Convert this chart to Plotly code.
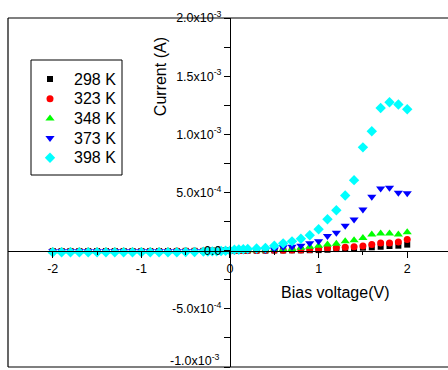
import plotly.graph_objects as go

# Bias voltage (V)
voltage = [-2.0, -1.9, -1.8, -1.7, -1.6, -1.5, -1.4, -1.3, -1.2, -1.1, -1.0,
           -0.9, -0.8, -0.7, -0.6, -0.5, -0.4,
           -0.3, -0.25, -0.2, -0.15, -0.1, -0.05, 0.0, 0.05, 0.1, 0.15, 0.2,
           0.3, 0.4, 0.5, 0.6, 0.7, 0.8, 0.9, 1.0, 1.1, 1.2, 1.3, 1.4, 1.5,
           1.6, 1.7, 1.8, 1.9, 2.0]

# Currents (A)
i_298 = [-3e-6, -3e-6, -3e-6, -3e-6, -3e-6, -3e-6, -3e-6, -3e-6, -3e-6, -3e-6, -3e-6,
         -3e-6, -3e-6, -3e-6, -3e-6, -2e-6, -2e-6,
         -2e-6, -1e-6, -1e-6, -1e-6, 0.0, 0.0, 0.0, 0.0, 0.0, 1e-6, 1e-6,
         1e-6, 1e-6, 2e-6, 2e-6, 3e-6, 3e-6, 4e-6, 5e-6, 8e-6, 1.4e-5, 1.6e-5, 2.0e-5, 2.6e-5,
         2.9e-5, 3.4e-5, 4.0e-5, 4.3e-5, 5.2e-5]
i_323 = [-4e-6, -4e-6, -4e-6, -4e-6, -4e-6, -4e-6, -4e-6, -4e-6, -4e-6, -4e-6, -4e-6,
         -4e-6, -4e-6, -4e-6, -3e-6, -3e-6, -3e-6,
         -2e-6, -2e-6, -1e-6, -1e-6, 0.0, 0.0, 0.0, 0.0, 1e-6, 1e-6, 2e-6,
         2e-6, 3e-6, 3e-6, 4e-6, 5e-6, 6e-6, 9e-6, 1.4e-5, 2.3e-5, 2.6e-5, 2.9e-5, 3.4e-5, 4.0e-5,
         5.2e-5, 6.6e-5, 6.6e-5, 7.5e-5, 9.5e-5]
i_348 = [-4e-6, -4e-6, -4e-6, -4e-6, -4e-6, -4e-6, -4e-6, -4e-6, -4e-6, -4e-6, -4e-6,
         -4e-6, -4e-6, -4e-6, -4e-6, -3e-6, -3e-6,
         -3e-6, -2e-6, -2e-6, -1e-6, -1e-6, 0.0, 0.0, 1e-6, 1e-6, 2e-6, 3e-6,
         4e-6, 4e-6, 6e-6, 1.0e-5, 1.5e-5, 2.5e-5, 3.4e-5, 4.3e-5, 5.2e-5, 6.0e-5, 8.0e-5, 8.9e-5, 1.09e-4,
         1.38e-4, 1.47e-4, 1.47e-4, 1.38e-4, 1.58e-4]
i_373 = [-6e-6, -6e-6, -6e-6, -6e-6, -6e-6, -6e-6, -6e-6, -6e-6, -6e-6, -6e-6, -6e-6,
         -6e-6, -6e-6, -6e-6, -5e-6, -5e-6, -5e-6,
         -4e-6, -4e-6, -3e-6, -2e-6, -1e-6, 0.0, 0.0, 1e-6, 2e-6, 3e-6, 4e-6,
         5e-6, 6e-6, 1.0e-5, 2.9e-5, 3.4e-5, 4.3e-5, 6.3e-5, 8.0e-5, 1.26e-4, 1.55e-4, 2.15e-4, 2.67e-4, 3.53e-4,
         4.63e-4, 5.34e-4, 5.40e-4, 4.97e-4, 4.94e-4]
i_398 = [-1.4e-5, -1.4e-5, -1.4e-5, -1.4e-5, -1.4e-5, -1.4e-5, -1.4e-5, -1.4e-5, -1.4e-5, -1.4e-5, -1.4e-5,
         -1.4e-5, -1.4e-5, -1.3e-5, -1.3e-5, -1.2e-5, -1.1e-5,
         -8e-6, -7e-6, -6e-6, -5e-6, -3e-6, -1e-6, 0.0, 8e-6, 1.0e-5, 1.2e-5, 1.5e-5,
         1.8e-5, 2.3e-5, 4.3e-5, 6.3e-5, 8.0e-5, 1.03e-4, 1.32e-4, 1.84e-4, 2.70e-4, 3.47e-4, 4.74e-4, 6.06e-4, 8.88e-4,
         1.026e-3, 1.227e-3, 1.276e-3, 1.256e-3, 1.216e-3]

series_names = ["298 K", "323 K", "348 K", "373 K", "398 K"]
series_values = [i_298, i_323, i_348, i_373, i_398]
series_colors = ["#000000", "#FF0000", "#00FF00", "#0000FF", "#00FFFF"]
series_symbols = ["square", "circle", "triangle-up", "triangle-down", "diamond"]
series_sizes = [6, 7, 8, 8, 8]

x_tickvals = [-2, -1, 0, 1, 2]
x_ticktext = ["-2", "-1", "0", "1", "2"]
y_tickvals = [2.0e-3, 1.5e-3, 1.0e-3, 5.0e-4, 0.0, -5.0e-4]
y_ticktext = ["2.0x10<sup>-3</sup>", "1.5x10<sup>-3</sup>", "1.0x10<sup>-3</sup>",
              "5.0x10<sup>-4</sup>", "0.0", "-5.0x10<sup>-4</sup>"]
y_bottom_val = -1.0e-3
y_bottom_text = "-1.0x10<sup>-3</sup>"

x_range = [-2.505, 2.46]
y_range = [-1.0e-3, 2.0e-3]

FONT = "Arial, 'Liberation Sans', sans-serif"

fig = go.Figure()
for name, vals, col, sym, sz in zip(series_names, series_values, series_colors,
                                     series_symbols, series_sizes):
    fig.add_trace(go.Scatter(
        x=voltage, y=vals, mode="markers", name=name, showlegend=False,
        marker=dict(color=col, symbol=sym, size=sz, line=dict(width=0)),
    ))

# Legend drawn in a pixel-like overlay coordinate system (x: 8..448, y: 18..367 downwards)
leg_left, leg_right, leg_top, leg_bottom = 31, 122, 60, 175
leg_row0, leg_row_step = 79, 19.7
leg_sym_x, leg_text_x = 50, 72
annotations = []
for k, (name, col, sym, sz) in enumerate(zip(series_names, series_colors,
                                            series_symbols, series_sizes)):
    ry = leg_row0 + k * leg_row_step
    fig.add_trace(go.Scatter(
        x=[leg_sym_x], y=[ry], xaxis="x2", yaxis="y2", mode="markers",
        showlegend=False, hoverinfo="skip",
        marker=dict(color=col, symbol=sym, size=sz, line=dict(width=0)),
    ))
    annotations.append(dict(text=name, x=leg_text_x, y=ry, xref="x2", yref="y2",
                            xanchor="left", yanchor="middle", showarrow=False,
                            font=dict(family=FONT, size=16, color="black")))

xpos = (0 - y_range[0]) / (y_range[1] - y_range[0])
ypos = (0 - x_range[0]) / (x_range[1] - x_range[0])

annotations += [
    dict(text="Current (A)", x=-0.79, y=1.5e-3, xref="x", yref="y",
         textangle=-90, showarrow=False, font=dict(family=FONT, size=16, color="black")),
    dict(text="Bias voltage(V)", x=1.185, y=-3.6e-4, xref="x", yref="y",
         showarrow=False, font=dict(family=FONT, size=16, color="black")),
    dict(text=y_bottom_text, x=0, y=y_bottom_val, xref="x", yref="y",
         xanchor="right", yanchor="bottom", xshift=-8, yshift=-3, showarrow=False,
         font=dict(family=FONT, size=12.5, color="black")),
]

fig.update_layout(
    width=448, height=370,
    margin=dict(l=8, r=0, t=18, b=3),
    paper_bgcolor="white", plot_bgcolor="white",
    font=dict(family=FONT, color="black", size=12),
    showlegend=False,
    xaxis=dict(
        range=x_range, anchor="free", position=xpos,
        showline=True, linecolor="black", linewidth=1,
        showgrid=False, zeroline=False,
        tickmode="array", tickvals=x_tickvals, ticktext=x_ticktext,
        ticks="outside", ticklen=6, tickcolor="black", tickwidth=1,
        tickfont=dict(family=FONT, size=12.5, color="black"),
        minor=dict(tickvals=[-1.5, -0.5, 0.5, 1.5], ticks="outside", ticklen=3,
                   tickcolor="black", showgrid=False),
    ),
    yaxis=dict(
        range=y_range, anchor="free", position=ypos,
        showline=True, linecolor="black", linewidth=1,
        showgrid=False, zeroline=False,
        tickmode="array", tickvals=y_tickvals, ticktext=y_ticktext,
        ticks="outside", ticklen=6, tickcolor="black", tickwidth=1,
        tickfont=dict(family=FONT, size=12.5, color="black"),
        minor=dict(tickvals=[1.75e-3, 1.25e-3, 7.5e-4, 2.5e-4, -2.5e-4, -7.5e-4, -1.0e-3],
                   ticks="outside", ticklen=6, tickcolor="black", showgrid=False),
    ),
    xaxis2=dict(overlaying="x", anchor="y2", range=[8, 448], visible=False, fixedrange=True),
    yaxis2=dict(overlaying="y", anchor="x2", range=[367, 18], visible=False, fixedrange=True),
    shapes=[
        dict(type="line", xref="paper", yref="paper", x0=0, x1=1, y0=1, y1=1,
             line=dict(color="black", width=1.2)),
        dict(type="line", xref="paper", yref="paper", x0=0, x1=0, y0=0, y1=1,
             line=dict(color="black", width=1.2)),
        dict(type="line", xref="paper", yref="paper", x0=0, x1=1, y0=0, y1=0,
             line=dict(color="black", width=1.2)),
        dict(type="rect", xref="x2", yref="y2", x0=leg_left, x1=leg_right,
             y0=leg_top, y1=leg_bottom, line=dict(color="black", width=1)),
    ],
    annotations=annotations,
)

fig.write_html("out.html")
